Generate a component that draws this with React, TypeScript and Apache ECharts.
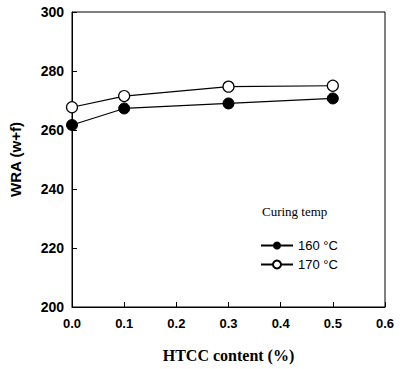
import React, { useEffect, useRef } from "react";
import * as echarts from "echarts";

const xValues = [0.0, 0.1, 0.3, 0.5];
const series160 = [261.7, 267.3, 269.0, 270.7];
const series170 = [267.7, 271.5, 274.7, 275.0];
const seriesNames = ["160 °C", "170 °C"];
const legendTitle = "Curing temp";
const xTitle = "HTCC content (%)";
const yTitle = "WRA (w+f)";

export default function App() {
  const ref = useRef<HTMLDivElement>(null);
  useEffect(() => {
    if (!ref.current) return;
    const chart = echarts.init(ref.current, undefined, { renderer: "svg" });
    const sans = "Liberation Sans, Arial, sans-serif";
    const serif = "Liberation Serif, Times New Roman, serif";
    chart.setOption({
      animation: false,
      backgroundColor: "#fff",
      grid: {
        left: 72,
        right: 15,
        top: 12,
        bottom: 62,
        show: true,
        borderColor: "#000",
        borderWidth: 1,
      },
      xAxis: {
        type: "value",
        min: 0,
        max: 0.6,
        interval: 0.1,
        name: xTitle,
        nameLocation: "middle",
        nameGap: 40,
        nameTextStyle: { fontFamily: serif, fontWeight: "bold", fontSize: 16, color: "#000" },
        axisLine: { lineStyle: { color: "#000", width: 1 } },
        axisTick: { inside: true, length: 5, lineStyle: { color: "#000" } },
        axisLabel: {
          fontFamily: sans,
          fontWeight: "bold",
          fontSize: 13,
          color: "#000",
          margin: 10,
          formatter: (v: number) => v.toFixed(1),
        },
        splitLine: { show: false },
      },
      yAxis: {
        type: "value",
        min: 200,
        max: 300,
        interval: 20,
        name: yTitle,
        nameLocation: "middle",
        nameGap: 49,
        nameTextStyle: { fontFamily: sans, fontWeight: "bold", fontSize: 15, color: "#000" },
        axisLine: { show: true, lineStyle: { color: "#000", width: 1 } },
        axisTick: { inside: true, length: 5, lineStyle: { color: "#000" } },
        axisLabel: { fontFamily: sans, fontWeight: "bold", fontSize: 14, color: "#000", margin: 8 },
        splitLine: { show: false },
      },
      legend: {
        orient: "vertical",
        left: 255,
        top: 234,
        itemWidth: 32,
        itemHeight: 10,
        itemGap: 6,
        textStyle: { fontFamily: sans, fontSize: 13, color: "#000" },
        data: seriesNames,
      },
      graphic: [
        {
          type: "text",
          left: 262,
          top: 205,
          style: { text: legendTitle, font: "13px " + serif, fill: "#000" },
        },
      ],
      series: [
        {
          name: seriesNames[0],
          type: "line",
          data: xValues.map((x, i) => [x, series160[i]]),
          symbol: "circle",
          symbolSize: 11,
          itemStyle: { color: "#000", borderColor: "#000" },
          lineStyle: { color: "#000", width: 1.2 },
        },
        {
          name: seriesNames[1],
          type: "line",
          data: xValues.map((x, i) => [x, series170[i]]),
          symbol: "circle",
          symbolSize: 11,
          itemStyle: { color: "#fff", borderColor: "#000", borderWidth: 1.2 },
          lineStyle: { color: "#000", width: 1.2 },
        },
      ],
    });
    return () => chart.dispose();
  }, []);
  return (
    <div
      ref={ref}
      style={{ position: "fixed", left: 0, top: 0, width: 400, height: 369 }}
    />
  );
}
